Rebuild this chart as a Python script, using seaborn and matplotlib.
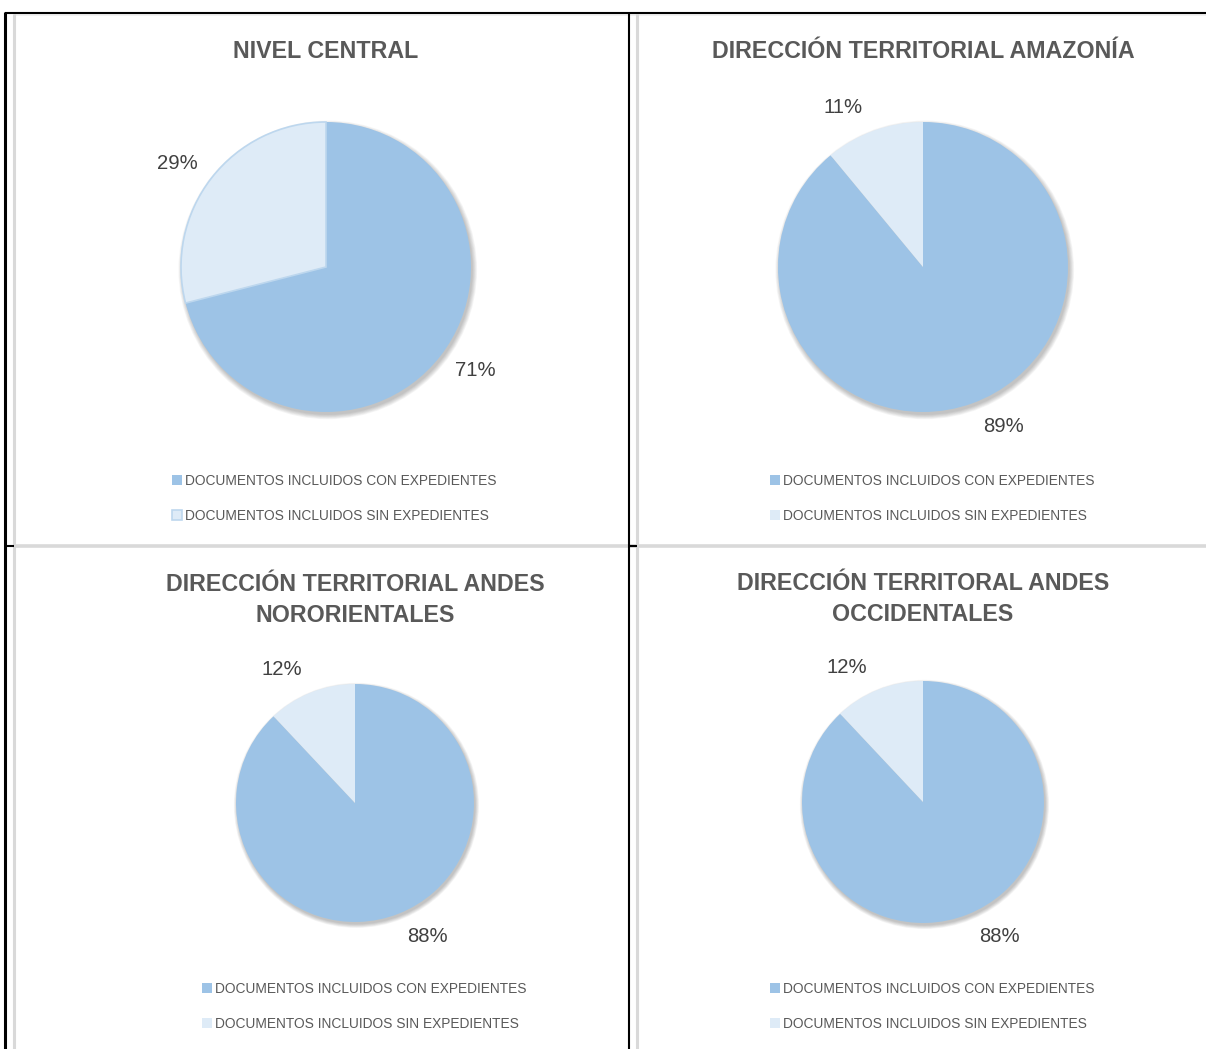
import numpy as np
import matplotlib
matplotlib.use("Agg")
import matplotlib.pyplot as plt
from matplotlib import font_manager
from matplotlib.lines import Line2D
from matplotlib.patches import Circle
import seaborn as sns

# ---- data -------------------------------------------------------------
titles = [
    "NIVEL CENTRAL",
    "DIRECCIÓN TERRITORIAL AMAZONÍA",
    "DIRECCIÓN TERRITORIAL ANDES\nNORORIENTALES",
    "DIRECCIÓN TERRITORAL ANDES\nOCCIDENTALES",
]
categories = [
    "DOCUMENTOS INCLUIDOS CON EXPEDIENTES",
    "DOCUMENTOS INCLUIDOS SIN EXPEDIENTES",
]
con_expedientes = [71, 89, 88, 88]
sin_expedientes = [29, 11, 12, 12]

# ---- style ------------------------------------------------------------
sns.set_theme(style="white")
names = {f.name for f in font_manager.fontManager.ttflist}
HAS_NARROW = "Liberation Sans Narrow" in names
BASE = "Liberation Sans Narrow" if HAS_NARROW else "Liberation Sans"
plt.rcParams["font.family"] = [BASE, "DejaVu Sans"]
k = 1.0 if HAS_NARROW else 0.86  # narrower type needs no shrinking

palette = sns.color_palette(["#9DC3E6", "#DEEBF7"])
TITLE_C = "#595959"
LABEL_C = "#404040"
LEGEND_C = "#595959"

W, H = 1206, 1049
fig = plt.figure(figsize=(W / 100, H / 100), dpi=100)
fig.patch.set_facecolor("white")


def fx(x):
    return x / W


def fy(y):
    return 1 - y / H


def hline(x0, x1, y, color, lw):
    fig.add_artist(Line2D([fx(x0), fx(x1)], [fy(y), fy(y)], transform=fig.transFigure,
                          color=color, lw=lw, solid_capstyle="butt"))


def vline(x, y0, y1, color, lw):
    fig.add_artist(Line2D([fx(x), fx(x)], [fy(y0), fy(y1)], transform=fig.transFigure,
                          color=color, lw=lw, solid_capstyle="butt"))


# table grid: light cell borders, then the black table rules
GRAY = "#D9D9D9"
hline(14, W, 14.5, "#EFEFEF", 1.2)
vline(14, 14, H, GRAY, 2.2)
vline(637, 14, H, GRAY, 2.2)
hline(14, W, 546, GRAY, 2.6)
hline(5, W, 12.5, "black", 1.5)
vline(5, 11.5, H, "black", 2.2)
vline(629, 11.5, H, "black", 1.5)
hline(4, 14, 545.5, "black", 1.5)
hline(629, 637, 545.5, "black", 1.5)

# per-panel placement (pixels)
centers = [(326, 267), (923, 267), (355, 803), (923, 802)]
radii = [145, 145, 119, 121]
title_pos = [(326, 52), (923, 52), (355, 600), (923, 599)]
legend_pos = [(172, 474), (770, 474), (202, 982), (770, 982)]
label_dist = [1.25, 1.23, 1.28, 1.275]
label_turn = [3, 7, 7, 8]

for i in range(4):
    cx, cy = centers[i]
    r = radii[i]
    span = 1.5
    size = 2 * span * r
    ax = fig.add_axes([fx(cx - span * r), fy(cy + span * r), size / W, size / H])

    # soft drop shadow below the disc
    for j in range(7):
        ax.add_patch(Circle((0.012, -0.02), 1.0 + 0.005 * j, facecolor="black",
                            edgecolor="none", alpha=0.035, zorder=0))

    vals = [con_expedientes[i], sin_expedientes[i]]
    wedges, _, autotexts = ax.pie(
        vals, colors=palette, startangle=90, counterclock=False, radius=1.0,
        autopct=lambda p: f"{p:.0f}%", pctdistance=label_dist[i],
        wedgeprops=dict(linewidth=0), textprops=dict(color=LABEL_C, fontsize=17 * k),
    )
    ax.set_xlim(-span, span)
    ax.set_ylim(-span, span)
    ax.set_aspect("equal")
    ax.axis("off")

    for w in wedges:
        w.set_zorder(2)
    if i == 0:
        wedges[1].set_edgecolor("#BDD7EE")
        wedges[1].set_linewidth(1.2)

    for w, t in zip(wedges, autotexts):
        mid = np.deg2rad((w.theta1 + w.theta2) / 2 + label_turn[i])
        t.set_position((label_dist[i] * np.cos(mid), label_dist[i] * np.sin(mid)))
        t.set_ha("center")
        t.set_va("center")

    tx, ty = title_pos[i]
    fig.text(fx(tx), fy(ty), titles[i], ha="center", va="center", fontsize=19.5 * k,
             fontweight="bold", color=TITLE_C, linespacing=1.4)

    lx, ly = legend_pos[i]
    fs = 11.5 * k
    leg = ax.legend(
        wedges, categories, loc="upper left", bbox_to_anchor=(fx(lx), fy(ly)),
        bbox_transform=fig.transFigure, frameon=False, borderpad=0, borderaxespad=0,
        handlelength=10 / (fs * 1.389), handleheight=10 / (fs * 1.389),
        handletextpad=3 / (fs * 1.389), labelspacing=1.5,
        prop=dict(size=fs), labelcolor=LEGEND_C,
    )

fig.savefig("out.png", dpi=100, facecolor="white")
